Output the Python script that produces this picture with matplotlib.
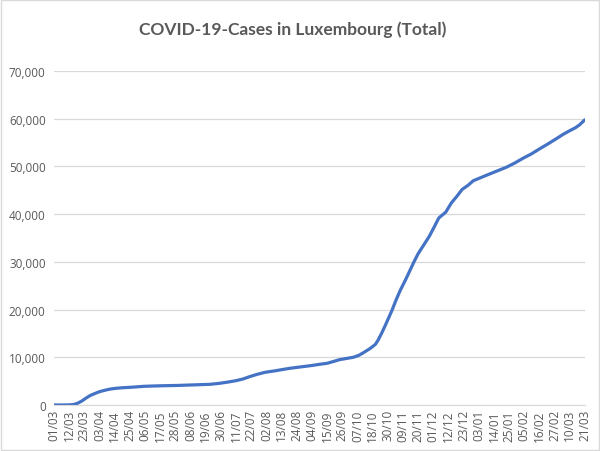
import numpy as np
import matplotlib
matplotlib.use("Agg")
import matplotlib.pyplot as plt
from matplotlib.patches import Rectangle
from matplotlib.ticker import FuncFormatter

# day index counted from 01/03/2020, total cases
days = [0, 5, 10, 14, 17, 20, 23, 26, 30, 33, 37, 41, 45, 50, 55, 60, 65, 72, 80, 90,
        99, 106, 113, 120, 126, 132, 137, 142, 147, 153, 160, 166, 171, 178, 186, 192,
        198, 203, 207, 212, 217, 221, 224, 229, 233, 235, 238, 241, 245, 248, 251, 255,
        258, 261, 264, 268, 272, 276, 279, 284, 288, 292, 296, 300, 304, 309, 314, 320,
        328, 334, 340, 346, 352, 358, 364, 369, 374, 378, 381, 385]
cases = [0, 0, 10, 80, 350, 800, 1400, 1950, 2450, 2790, 3100, 3350, 3500, 3620, 3700,
         3800, 3910, 3980, 4040, 4100, 4190, 4260, 4330, 4540, 4800, 5100, 5450, 5950,
         6400, 6850, 7150, 7450, 7690, 7950, 8240, 8500, 8740, 9150, 9500, 9750, 10000,
         10400, 10900, 11800, 12700, 13600, 15300, 17200, 19800, 22000, 24000, 26300,
         28150, 30000, 31700, 33500, 35300, 37500, 39200, 40400, 42300, 43700, 45200,
         46000, 47000, 47600, 48200, 48900, 49830, 50700, 51700, 52600, 53670, 54700,
         55770, 56700, 57500, 58100, 58700, 59800]

tick_labels = ["01/03", "12/03", "23/03", "03/04", "14/04", "25/04", "06/05", "17/05",
               "28/05", "08/06", "19/06", "30/06", "11/07", "22/07", "02/08", "13/08",
               "24/08", "04/09", "15/09", "26/09", "07/10", "18/10", "30/10", "09/11",
               "20/11", "01/12", "12/12", "23/12", "03/01", "14/01", "25/01", "05/02",
               "16/02", "27/02", "10/03", "21/03"]

grey = "#595959"
fig = plt.figure(figsize=(6, 4.52), dpi=100)
ax = fig.add_axes([0.09, 0.1018, 0.885, 0.7389])

ax.plot(days, cases, color="#4472C4", linewidth=2.3, solid_capstyle="round")

ax.set_xlim(0, 385)
ax.set_ylim(0, 70000)
ax.set_yticks(range(0, 70001, 10000))
ax.yaxis.set_major_formatter(FuncFormatter(lambda v, p: f"{int(v):,}"))
ax.set_xticks(np.arange(len(tick_labels)) * 11)
ax.set_xticklabels(tick_labels, rotation=90)

ax.grid(axis="y", color="#D9D9D9", linewidth=0.9)
ax.set_axisbelow(True)
for s in ["top", "right", "left"]:
    ax.spines[s].set_visible(False)
ax.spines["bottom"].set_color("#D9D9D9")
ax.tick_params(axis="both", length=0, labelsize=8.5, labelcolor=grey, pad=6)
ax.tick_params(axis="x", pad=3)
for lbl in ax.get_xticklabels() + ax.get_yticklabels():
    lbl.set_family("Open Sans")

fig.text(0.4883, 0.935, "COVID-19-Cases in Luxembourg (Total)", ha="center", va="center",
         fontsize=12.5, fontweight="bold", color=grey, family="Lato")

fig.patches.append(Rectangle((0.002, 0.002), 0.996, 0.996, transform=fig.transFigure,
                             fill=False, edgecolor="#D9D9D9", linewidth=1))

fig.savefig("out.png", dpi=100)
